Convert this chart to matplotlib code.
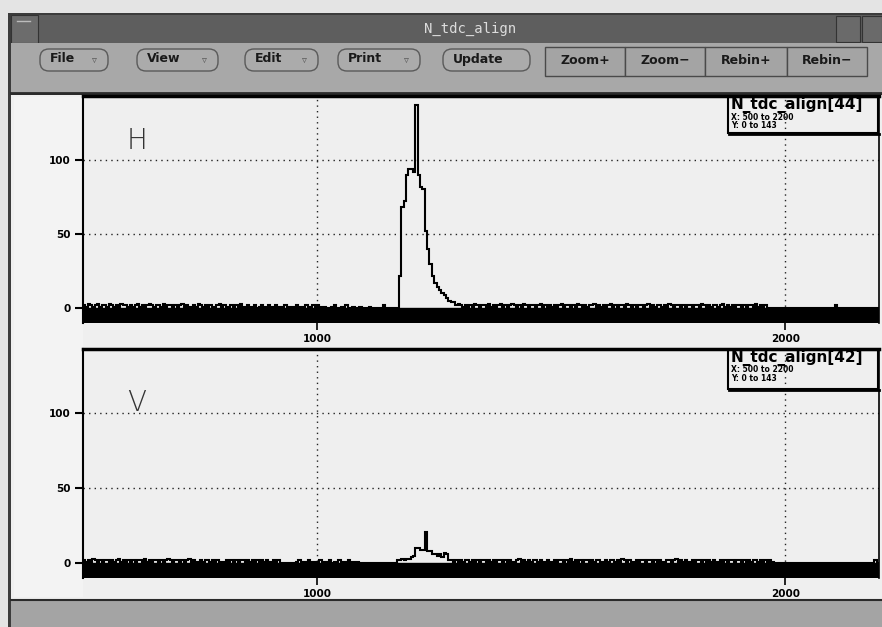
import numpy as np
import matplotlib
matplotlib.use("Agg")
import matplotlib.pyplot as plt
from matplotlib.patches import Rectangle, FancyBboxPatch

# ---------------- data ----------------
x_start = 500
bin_width = 5
x_range = (500, 2200)
y_range = (-10, 143)
y_ticks = [0, 50, 100]
x_ticks = [1000, 2000]

h_counts = (
    [2,1,3,2,1,2,3,1,2,2,1,3,2,1,2,1,3,2,2,1] +      # 500
    [2,1,2,3,1,2,1,2,3,2,1,2,2,1,3,1,2,2,1,2] +      # 600
    [1,2,3,1,2,1,0,2,1,3,2,1,2,1,2,0,1,2,3,1] +      # 700
    [2,1,0,2,1,2,1,3,1,0,2,1,1,2,0,1,2,1,0,2] +      # 800
    [1,0,2,1,0,1,2,0,1,1,0,2,1,0,1,2,0,1,2,1] +      # 900
    [2,1,0,1,0,0,1,2,0,0,1,0,2,0,0,1,0,0,1,0] +      # 1000
    [0,0,1,0,0,0,0,0,2,0,0,0,0,0,0,22,68,72,90,94] + # 1100
    [94,92,137,90,82,80,52,40,30,22,17,14,12,10,9,7,5,4,4,2] +  # 1200
    [3,2,1,2,1,2,1,3,2,1,2,2,1,3,1,2,1,2,3,1] +      # 1300
    [2,1,2,3,2,1,2,1,3,2,1,2,2,1,2,3,1,2,1,2] +      # 1400
    [1,2,1,2,3,1,2,2,1,2,1,3,2,1,2,1,2,2,3,1] +      # 1500
    [2,1,2,1,2,3,1,2,1,2,2,1,3,2,1,2,1,2,2,1] +      # 1600
    [2,3,1,2,1,2,2,1,2,1,3,2,1,2,2,1,2,1,2,2] +      # 1700
    [1,2,2,1,3,2,1,2,1,2,2,1,2,3,1,2,1,2,1,2] +      # 1800
    [2,1,2,1,2,2,1,3,1,2,1,2,0,0,0,0,0,0,0,0] +      # 1900
    [0,0,0,0,0,0,0,0,0,0,0,0,0,0,0,0,0,0,0,0] +      # 2000
    [0,2,0,0,0,0,0,0,0,0,0,0,0,0,0,0,0,0,0,0]        # 2100
)

v_counts = (
    [2,1,2,1,3,2,1,2,1,2,2,1,2,1,2,3,1,2,1,2] +      # 500
    [1,2,1,2,2,1,3,1,2,1,2,2,1,2,1,2,3,2,1,2] +      # 600
    [2,1,2,1,2,3,1,2,1,1,2,1,2,2,1,2,1,2,1,1] +      # 700
    [1,2,1,2,1,2,1,2,2,1,2,1,2,1,2,1,2,1,2,1] +      # 800
    [1,2,1,2,0,0,0,0,0,0,0,1,2,1,0,1,2,1,1,0] +      # 900
    [1,2,1,0,1,2,0,1,1,2,0,1,1,2,1,1,0,1,0,0] +      # 1000
    [0,0,0,0,0,0,0,0,0,0,0,0,0,0,2,2,3,2,3,3] +      # 1100
    [4,5,10,10,9,9,21,8,8,6,6,5,6,4,7,6,2,2,1,2] +   # 1200
    [1,2,1,2,2,1,2,1,2,1,2,2,1,2,1,2,1,2,2,1] +      # 1300
    [2,1,2,1,1,2,3,1,2,1,2,1,2,2,1,2,1,1,2,1] +      # 1400
    [1,2,1,2,2,1,2,1,3,1,2,1,2,1,2,2,1,2,1,2] +      # 1500
    [2,1,1,2,1,2,2,1,2,1,3,2,1,2,1,1,2,1,2,2] +      # 1600
    [1,2,2,1,2,1,2,1,1,2,2,1,2,3,1,2,1,2,1,1] +      # 1700
    [2,1,2,2,1,2,1,2,1,2,1,1,2,1,2,1,2,2,1,2] +      # 1800
    [2,1,2,1,2,1,2,2,1,2,1,2,1,2,1,0,0,0,0,0] +      # 1900
    [0,0,0,0,0,0,0,0,0,0,0,0,0,0,0,0,0,0,0,0] +      # 2000
    [0,0,0,0,0,0,0,0,0,0,0,0,0,0,0,0,0,0,2,0]        # 2100
)

panel_names = ["N_tdc_align[44]", "N_tdc_align[42]"]
panel_letters = ["H", "V"]
stats_lines = ["X: 500 to 2200", "Y: 0 to 143"]
menu_left = ["File", "View", "Edit", "Print", "Update"]
menu_right = ["Zoom+", "Zoom\u2212", "Rebin+", "Rebin\u2212"]
window_title = "N_tdc_align"

# ---------------- figure ----------------
W, H = 882, 627
fig = plt.figure(figsize=(W / 100, H / 100), dpi=100)
fig.patch.set_facecolor("#e4e4e4")

bg = fig.add_axes([0, 0, 1, 1])
bg.set_xlim(0, W)
bg.set_ylim(H, 0)
bg.axis("off")

def rect(ax, x, y, w, h, fc, ec="none", lw=0, z=1):
    ax.add_patch(Rectangle((x, y), w, h, facecolor=fc, edgecolor=ec, linewidth=lw, zorder=z))

# window frame
rect(bg, 8, 13, W - 8, H - 13, "#3c3c3c")
# title bar
rect(bg, 11, 15, W - 11, 28, "#5e5e5e")
rect(bg, 11, 15, 27, 28, "#6c6c6c", ec="#333333", lw=0.8)
bg.plot([17, 30], [21, 21], color="#bbbbbb", lw=1)
rect(bg, 836, 16, 24, 26, "#6a6a6a", ec="#333333", lw=0.8)
rect(bg, 862, 16, 20, 26, "#6a6a6a", ec="#333333", lw=0.8)
bg.text(470, 29, window_title, ha="center", va="center", color="#dcdcdc",
        fontsize=10, family="DejaVu Sans Mono")
# menu bar
rect(bg, 11, 43, W - 11, 50, "#a8a8a8")
bg.plot([11, W], [93, 93], color="#2a2a2a", lw=2)

left_btn_x = [(40, 108), (137, 218), (245, 318), (338, 420), (443, 530)]
for (x0, x1), lab in zip(left_btn_x, menu_left):
    bb = FancyBboxPatch((x0, 49), x1 - x0, 22, boxstyle="round,pad=0,rounding_size=9",
                        facecolor="#ababab", edgecolor="#5a5a5a", linewidth=1.0, zorder=2)
    bg.add_patch(bb)
    bg.text(x0 + 10, 59, lab, ha="left", va="center", fontsize=9, fontweight="bold",
            color="#1a1a1a", zorder=3)
    if lab != "Update":
        bg.text(x1 - 14, 60, "\u25bf", ha="center", va="center", fontsize=7,
                color="#555555", zorder=3)

right_btn_x = [(545, 625), (625, 705), (705, 787), (787, 867)]
for (x0, x1), lab in zip(right_btn_x, menu_right):
    rect(bg, x0, 47, x1 - x0, 29, "#a4a4a4", ec="#4a4a4a", lw=1.0, z=2)
    bg.text((x0 + x1) / 2, 61, lab, ha="center", va="center", fontsize=9,
            fontweight="bold", color="#1a1a1a", zorder=3)

# canvas area
rect(bg, 11, 95, W - 11, 505, "#efefef")
rect(bg, 14, 97, 69, 500, "#f3f3f3")
# bottom status bar
rect(bg, 11, 600, W - 11, 27, "#a4a4a4")
bg.plot([11, W], [600, 600], color="#2a2a2a", lw=1.5)

# ---------------- histogram panels ----------------
def px_axes(x0, y0, x1, y1):
    return fig.add_axes([x0 / W, 1 - y1 / H, (x1 - x0) / W, (y1 - y0) / H])

panels = [px_axes(83, 96, 879, 323), px_axes(83, 349, 879, 578)]
for ax, counts in zip(panels, [h_counts, v_counts]):
    edges = x_start + bin_width * np.arange(len(counts) + 1)
    ax.set_facecolor("none")
    ax.set_xlim(*x_range)
    ax.set_ylim(*y_range)
    ax.axhspan(y_range[0], 0, color="black", zorder=2)
    for yv in [50, 100]:
        ax.axhline(yv, color="#222222", lw=1.0, ls=(0, (1, 3)), zorder=1)
    for xv in x_ticks:
        ax.axvline(xv, color="#222222", lw=1.0, ls=(0, (1, 3)), zorder=1)
    ax.stairs(counts, edges, baseline=0, color="black", lw=1.5, zorder=3)
    ax.set_xticks(x_ticks)
    ax.set_xticklabels([str(t) for t in x_ticks], fontsize=7.5, fontweight="bold")
    ax.set_yticks(y_ticks)
    ax.set_yticklabels([str(t) for t in y_ticks], fontsize=7.5, fontweight="bold")
    ax.tick_params(axis="x", direction="out", length=5, width=1.2, pad=3)
    ax.tick_params(axis="y", direction="out", length=6, width=1.5, pad=3)
    ax.spines["top"].set_linewidth(2.5)
    ax.spines["left"].set_linewidth(1.5)
    ax.spines["right"].set_linewidth(1.2)
    ax.spines["bottom"].set_visible(False)

# ---------------- overlay: stats boxes and handwriting ----------------
ov = fig.add_axes([0, 0, 1, 1])
ov.set_facecolor("none")
ov.set_xlim(0, W)
ov.set_ylim(H, 0)
ov.axis("off")

for (y0, y1), name in zip([(97, 133), (350, 389)], panel_names):
    ov.add_patch(Rectangle((728, y0), 150, y1 - y0, facecolor="none",
                           edgecolor="black", linewidth=1.5))
    ov.plot([729, 879], [y1 + 1, y1 + 1], color="black", lw=2)
    ov.text(731, y0 + 8, name, ha="left", va="center", fontsize=11,
            fontweight="bold", color="black")
    ov.text(731, y0 + 20, stats_lines[0], ha="left", va="center", fontsize=5.5,
            fontweight="bold", color="black")
    ov.text(731, y0 + 28.5, stats_lines[1], ha="left", va="center", fontsize=5.5,
            fontweight="bold", color="black")

for (xc, yc), letter in zip([(137, 141), (137, 403)], panel_letters):
    ov.text(xc, yc, letter, ha="center", va="center", fontsize=20,
            color="#333333", family="DejaVu Sans", fontweight="light")

fig.savefig("out.png", dpi=100)
